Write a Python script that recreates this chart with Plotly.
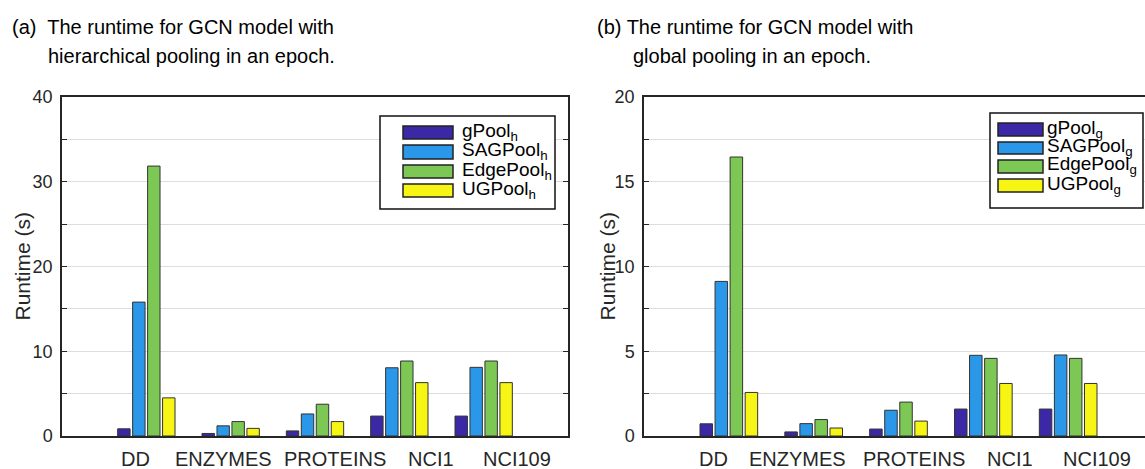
import plotly.graph_objects as go

# ---------------- data ----------------
categories = ["DD", "ENZYMES", "PROTEINS", "NCI1", "NCI109"]
methods = ["gPool", "SAGPool", "EdgePool", "UGPool"]

# (a) hierarchical pooling runtimes (s)
gpool_h = [0.85, 0.3, 0.6, 2.35, 2.35]
sagpool_h = [15.8, 1.2, 2.6, 8.05, 8.1]
edgepool_h = [31.85, 1.7, 3.75, 8.85, 8.85]
ugpool_h = [4.5, 0.9, 1.7, 6.3, 6.3]

# (b) global pooling runtimes (s)
gpool_g = [0.72, 0.24, 0.41, 1.59, 1.59]
sagpool_g = [9.12, 0.73, 1.52, 4.76, 4.78]
edgepool_g = [16.46, 0.97, 2.0, 4.58, 4.58]
ugpool_g = [2.57, 0.47, 0.88, 3.1, 3.1]

yrange_a, ystep_a = 40, 10
yrange_b, ystep_b = 20, 5

# ---------------- style ----------------
W, H = 1145, 469
colors = ["#3b28a6", "#2b97e8", "#7dc855", "#f7f514"]
axis_col = "#262626"
grid_col = "#dddddd"
font_family = "Liberation Sans, Arial, Helvetica, sans-serif"

# label offsets (in category units) for the x labels, as in the original figure
label_shift_a = [-0.13, -0.09, 0.24, 0.37, 0.40]
label_shift_b = [-0.18, -0.19, 0.18, 0.32, 0.34]


def px(x):
    return x / W


def py(y):
    return 1 - y / H


xpos = list(range(1, len(categories) + 1))

fig = go.Figure()
series_a = [gpool_h, sagpool_h, edgepool_h, ugpool_h]
series_b = [gpool_g, sagpool_g, edgepool_g, ugpool_g]
for i, m in enumerate(methods):
    fig.add_trace(go.Bar(x=xpos, y=series_a[i], name=m + "_h", xaxis="x", yaxis="y",
                         marker=dict(color=colors[i], line=dict(color="#333333", width=1)),
                         offsetgroup=str(i), showlegend=False))
for i, m in enumerate(methods):
    fig.add_trace(go.Bar(x=xpos, y=series_b[i], name=m + "_g", xaxis="x2", yaxis="y2",
                         marker=dict(color=colors[i], line=dict(color="#333333", width=1)),
                         offsetgroup=str(i), showlegend=False))

# plot boxes in pixels
a_l, a_r, top, bot = 62, 568, 97, 436
b_l, b_r_full = 644, 1153
slot_b = (b_r_full - b_l) / 6.0
b_range_end = (W - b_l) / slot_b


def yax(rng, step, mirror):
    return dict(range=[0, rng], tickmode="linear", tick0=0, dtick=step,
                ticks="inside", ticklen=5, tickwidth=1, tickcolor=axis_col,
                minor=dict(dtick=step / 2, ticks="inside", ticklen=5, tickwidth=1,
                           tickcolor=axis_col, showgrid=True, gridcolor=grid_col, gridwidth=1),
                showline=True, linecolor=axis_col, linewidth=1.5,
                showgrid=True, gridcolor=grid_col, gridwidth=1, zeroline=False,
                tickfont=dict(size=18, color=axis_col, family=font_family),
                ticklabelstandoff=4, automargin=False, mirror=mirror,
                domain=[py(bot), py(top)])


fig.update_layout(
    width=W, height=H,
    margin=dict(l=0, r=0, t=0, b=0, pad=0, autoexpand=False),
    paper_bgcolor="white", plot_bgcolor="white",
    barmode="group", bargap=0.29, bargroupgap=0.17,
    font=dict(family=font_family, color="black"),
    xaxis=dict(domain=[px(a_l), px(a_r)], range=[0, 6], showticklabels=False,
               ticks="", showgrid=False, zeroline=False, showline=True, automargin=False,
               linecolor=axis_col, linewidth=1.5, mirror=True, anchor="y"),
    yaxis=dict(anchor="x", **yax(yrange_a, ystep_a, "ticks")),
    xaxis2=dict(domain=[px(b_l), 1.0], range=[0, b_range_end], showticklabels=False,
                ticks="", showgrid=False, zeroline=False, showline=True, automargin=False,
                linecolor=axis_col, linewidth=1.5, mirror=True, anchor="y2"),
    yaxis2=dict(anchor="x2", **yax(yrange_b, ystep_b, False)),
)

ann = []
tfont = dict(size=20, color="black")
# titles
ann.append(dict(text="(a)  The runtime for GCN model with", x=px(10), y=py(27), xref="paper", yref="paper",
                xanchor="left", yanchor="middle", showarrow=False, font=tfont))
ann.append(dict(text="hierarchical pooling in an epoch.", x=px(46), y=py(56), xref="paper", yref="paper",
                xanchor="left", yanchor="middle", showarrow=False, font=tfont))
ann.append(dict(text="(b) The runtime for GCN model with", x=px(595), y=py(27), xref="paper", yref="paper",
                xanchor="left", yanchor="middle", showarrow=False, font=tfont))
ann.append(dict(text="global pooling in an epoch.", x=px(631), y=py(56), xref="paper", yref="paper",
                xanchor="left", yanchor="middle", showarrow=False, font=tfont))
# y titles
ann.append(dict(text="Runtime (s)", x=px(22), y=py((top + bot) / 2), xref="paper", yref="paper",
                textangle=-90, showarrow=False, xanchor="center", yanchor="middle",
                font=dict(size=21, color=axis_col)))
ann.append(dict(text="Runtime (s)", x=px(607), y=py((top + bot) / 2), xref="paper", yref="paper",
                textangle=-90, showarrow=False, xanchor="center", yanchor="middle",
                font=dict(size=21, color=axis_col)))
# category labels
for i, c in enumerate(categories):
    ann.append(dict(text=c, x=xpos[i] + label_shift_a[i], y=py(459), xref="x", yref="paper",
                    showarrow=False, xanchor="center", yanchor="middle",
                    font=dict(size=20, color=axis_col)))
    ann.append(dict(text=c, x=xpos[i] + label_shift_b[i], y=py(459), xref="x2", yref="paper",
                    showarrow=False, xanchor="center", yanchor="middle",
                    font=dict(size=20, color=axis_col)))

shapes = []


def add_legend(box, sw_x0, sw_x1, rows, txt_x, sub):
    bx0, by0, bx1, by1 = box
    shapes.append(dict(type="rect", xref="paper", yref="paper", x0=px(bx0), x1=px(bx1),
                       y0=py(by1), y1=py(by0), line=dict(color="#111111", width=1.5),
                       fillcolor="white", layer="above"))
    for i, m in enumerate(methods):
        r0, r1 = rows[i]
        shapes.append(dict(type="rect", xref="paper", yref="paper", x0=px(sw_x0), x1=px(sw_x1),
                           y0=py(r1), y1=py(r0), line=dict(color="#222222", width=1.5),
                           fillcolor=colors[i], layer="above"))
        ann.append(dict(text=m + "<sub>" + sub + "</sub>", x=px(txt_x), y=py((r0 + r1) / 2 - 1),
                        xref="paper", yref="paper", xanchor="left", yanchor="middle",
                        showarrow=False, font=dict(size=19, color="black")))


add_legend((380, 116, 555, 209), 403, 453,
           [(126, 139), (145, 159), (165, 178), (184, 197)], 460, "h")
add_legend((990, 113, 1143, 208), 998, 1043,
           [(123, 136), (142, 154), (160, 173), (179, 192)], 1045, "g")

fig.update_layout(annotations=ann, shapes=shapes)
fig.write_html("out.html", config={"displayModeBar": False},
               post_script="document.body.style.margin='0';document.body.style.overflow='hidden';")
